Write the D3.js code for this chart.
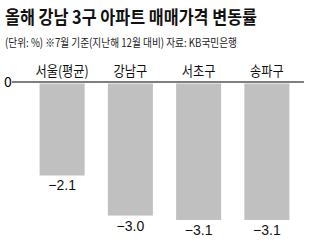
<!DOCTYPE html>
<html>
<head>
<meta charset="utf-8">
<script src="https://cdn.jsdelivr.net/npm/d3@7"></script>
<style>
  body { margin: 0; background: #fff; }
  svg { display: block; font-family: "Noto Sans CJK KR", "Noto Sans", sans-serif; }
</style>
</head>
<body>
<div id="chart"></div>
<script>
const categories = ["서울(평균)", "강남구", "서초구", "송파구"];
const values = [-2.1, -3.0, -3.1, -3.1];
const valueLabels = ["−2.1", "−3.0", "−3.1", "−3.1"];

const width = 316, height = 244;

const svg = d3.select("#chart")
  .append("svg")
    .attr("width", width)
    .attr("height", height);

// title + note
svg.append("text")
  .attr("x", 5).attr("y", 24)
  .attr("font-size", 18).attr("font-weight", "bold")
  .attr("fill", "#111")
  .attr("textLength", 252).attr("lengthAdjust", "spacingAndGlyphs")
  .text("올해 강남 3구 아파트 매매가격 변동률");

svg.append("text")
  .attr("x", 5).attr("y", 47)
  .attr("font-size", 11.5)
  .attr("fill", "#222")
  .attr("textLength", 232).attr("lengthAdjust", "spacingAndGlyphs")
  .text("(단위: %)  ※7월 기준(지난해 12월 대비)  자료: KB국민은행");

const x = d3.scaleBand()
  .domain(categories)
  .range([28, 301])
  .paddingInner(0.34)
  .paddingOuter(0.17);

const y = d3.scaleLinear()
  .domain([0, -3.1])
  .range([82, 220]);

// bars
svg.selectAll("rect.bar")
  .data(values)
  .enter()
  .append("rect")
    .attr("class", "bar")
    .attr("x", (d, i) => x(categories[i]))
    .attr("y", y(0) + 1.5)
    .attr("width", x.bandwidth())
    .attr("height", d => y(d) - y(0) - 1.5)
    .attr("fill", "#c0c0c0");

// zero line
svg.append("line")
  .attr("x1", 12).attr("x2", 304)
  .attr("y1", y(0)).attr("y2", y(0))
  .attr("stroke", "#000").attr("stroke-width", 1.2);

svg.append("text")
  .attr("x", 8).attr("y", y(0))
  .attr("dy", "0.35em")
  .attr("text-anchor", "middle")
  .attr("font-size", 14)
  .text("0");

// category labels (slightly condensed like the original)
svg.selectAll("text.cat")
  .data(categories)
  .enter()
  .append("text")
    .attr("class", "cat")
    .attr("x", d => x(d) + x.bandwidth() / 2)
    .attr("y", 76)
    .attr("text-anchor", "middle")
    .attr("font-size", 14)
    .attr("fill", "#111")
    .text(d => d)
    .each(function() {
      const w = this.getComputedTextLength();
      d3.select(this).attr("textLength", w * 0.87).attr("lengthAdjust", "spacingAndGlyphs");
    });

// value labels
svg.selectAll("text.val")
  .data(values)
  .enter()
  .append("text")
    .attr("class", "val")
    .attr("x", (d, i) => x(categories[i]) + x.bandwidth() / 2)
    .attr("y", d => y(d) + 15)
    .attr("text-anchor", "middle")
    .attr("font-size", 14)
    .attr("font-family", "Liberation Sans, sans-serif")
    .attr("fill", "#111")
    .text((d, i) => valueLabels[i]);
</script>
</body>
</html>
